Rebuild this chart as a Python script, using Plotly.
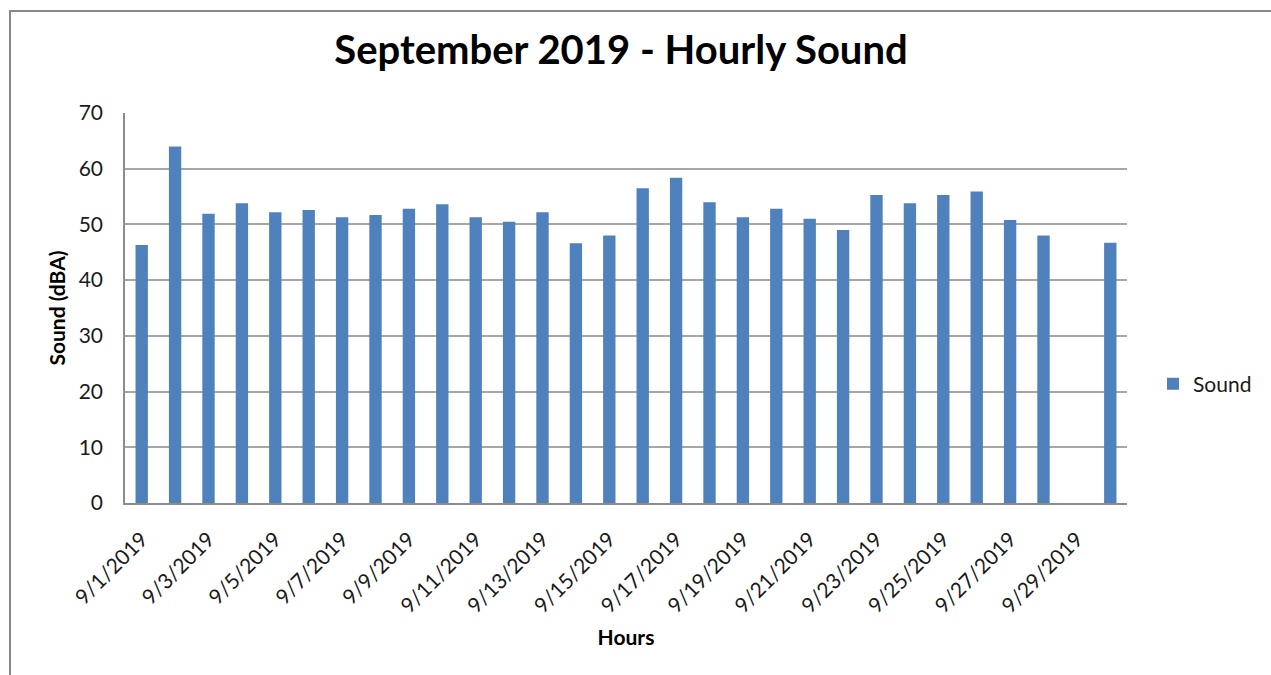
import plotly.graph_objects as go

dates = [f"9/{d}/2019" for d in range(1, 31)]
sound = [46.3, 64.0, 51.9, 53.8, 52.2, 52.6, 51.3, 51.7, 52.8, 53.6,
         51.3, 50.5, 52.2, 46.6, 48.0, 56.5, 58.4, 54.0, 51.3, 52.8,
         51.0, 49.0, 55.3, 53.8, 55.3, 55.9, 50.8, 48.0, None, 46.7]
tick_labels = dates[::2]
y_ticks = [0, 10, 20, 30, 40, 50, 60, 70]

L, R, T, B = 125, 144, 113, 172
W, H = 1271, 675
pw, ph = W - L - R, H - T - B

fig = go.Figure()
fig.add_trace(go.Bar(x=dates, y=sound, name="Sound",
                     marker=dict(color="#4f81bd", line=dict(width=0)),
                     showlegend=True))

fig.update_layout(
    width=W, height=H,
    margin=dict(l=L, r=R, t=T, b=B, autoexpand=False),
    paper_bgcolor="white", plot_bgcolor="white",
    bargap=0.63,
    title=dict(text="<b>September 2019 - Hourly Sound</b>",
               font=dict(family="Lato", size=40, color="black"),
               x=621 / W, xanchor="center", y=1 - 50 / H, yanchor="middle",
               xref="container", yref="container"),
    xaxis=dict(type="category", tickmode="array", tickvals=tick_labels, ticktext=tick_labels,
               tickangle=-45, tickfont=dict(family="Lato", size=21, color="#1a1a1a"),
               ticklabelstandoff=14,
               showgrid=False, showline=True, linecolor="#8c8c8c", linewidth=1.5,
               ticks="", automargin=False,
               title=dict(text="<b>Hours</b>", font=dict(family="Lato", size=21, color="black"),
                          standoff=14)),
    yaxis=dict(range=[0, 70], tickvals=y_ticks, showgrid=True, gridcolor="#a6a6a6", gridwidth=1.5,
               showline=True, linecolor="#8c8c8c", linewidth=1.5, zeroline=False,
               ticks="", tickfont=dict(family="Lato", size=21, color="#1a1a1a"),
               ticklabelstandoff=16,
               automargin=False,
               title=dict(text="<b>Sound (dBA)</b>", font=dict(family="Lato", size=21, color="black"),
                          standoff=7)),
    legend=dict(x=(1153 - L) / pw, y=(503 - 384) / ph, xanchor="left", yanchor="middle",
                font=dict(family="Lato", size=21, color="#1a1a1a"),
                bgcolor="rgba(0,0,0,0)", itemwidth=30),
    shapes=[dict(type="rect", xref="paper", yref="paper",
                 x0=(10 - L) / pw, x1=(W + 10 - L) / pw,
                 y0=(503 - (H + 10)) / ph, y1=(503 - 11) / ph,
                 line=dict(color="#878787", width=2), fillcolor="rgba(0,0,0,0)", layer="below")],
)

fig.write_html("out.html")
